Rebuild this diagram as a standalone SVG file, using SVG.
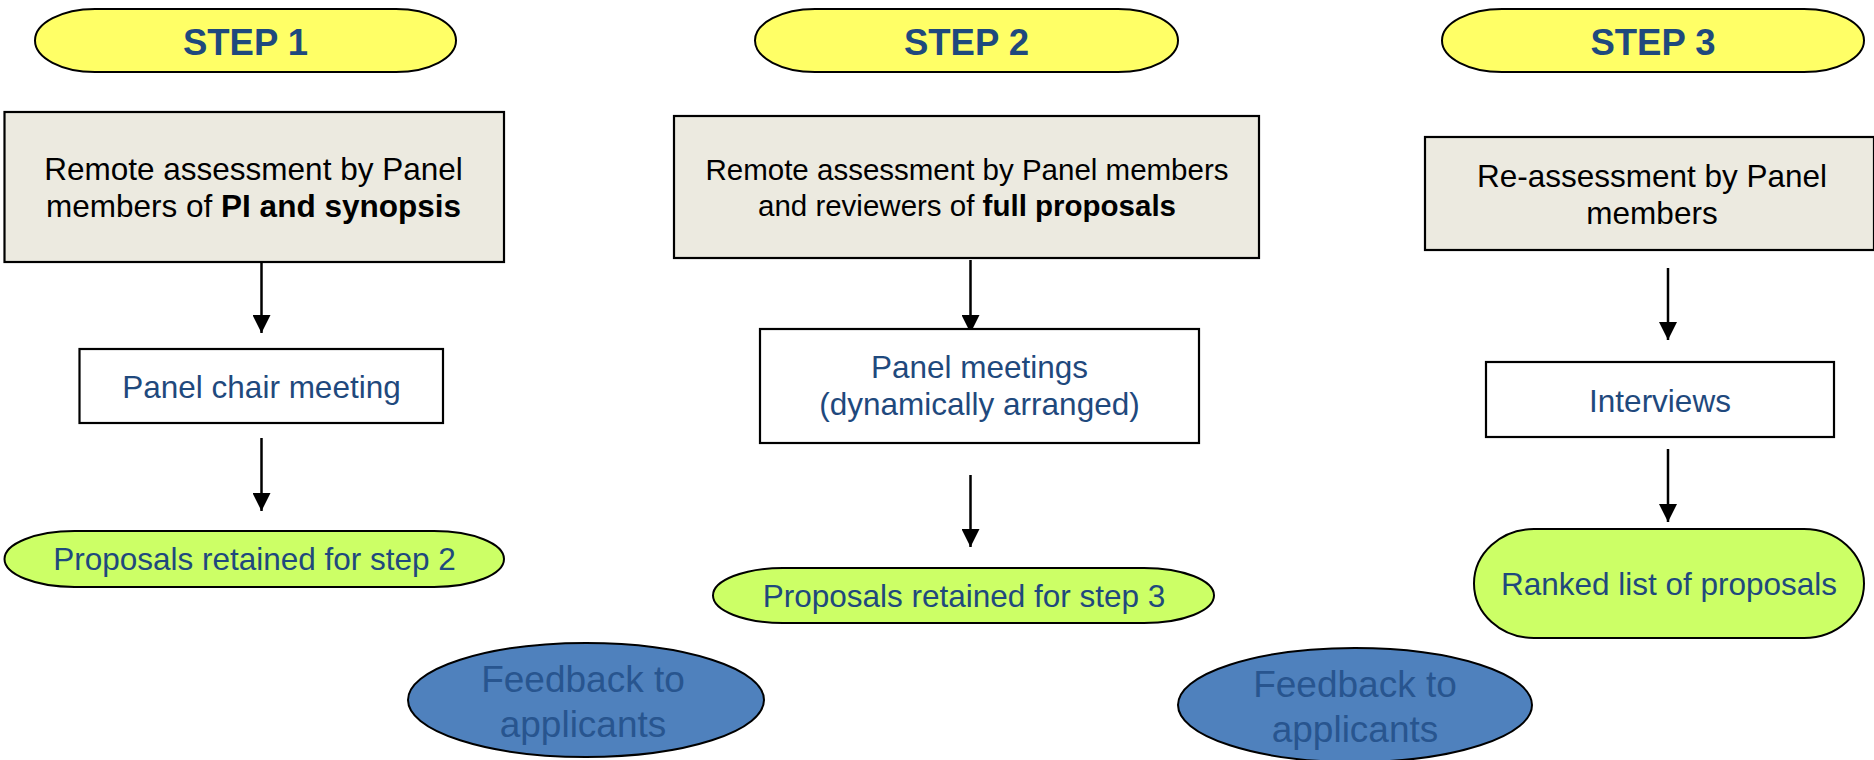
<svg xmlns="http://www.w3.org/2000/svg" width="1874" height="760" viewBox="0 0 1874 760">
<style>
.step{fill:#FFFF66;stroke:#000;stroke-width:2}
.steptxt{font-family:"Liberation Sans",Arial,sans-serif;font-weight:bold;font-size:36.5px;fill:#1F497D;text-anchor:middle}
.gbox{fill:#ECEAE0;stroke:#000;stroke-width:2.2}
.wbox{fill:#FFFFFF;stroke:#000;stroke-width:2.2}
.green{fill:#CCFF66;stroke:#000;stroke-width:2}
.fb{fill:#4F81BD;stroke:#000;stroke-width:2}
.blk{font-family:"Liberation Sans",Arial,sans-serif;font-size:31.5px;fill:#000;text-anchor:middle}
.blue{font-family:"Liberation Sans",Arial,sans-serif;font-size:31.5px;fill:#1F497D;text-anchor:middle}
.fbt{font-family:"Liberation Sans",Arial,sans-serif;font-size:37px;fill:#28558F;text-anchor:middle}
.b{font-weight:bold}
.conn{stroke:#000;stroke-width:2.5;fill:none;marker-end:url(#ah)}
</style>
<defs>
<marker id="ah" markerUnits="userSpaceOnUse" markerWidth="18" markerHeight="18" viewBox="0 0 16 16" refX="16" refY="8" orient="auto">
<path d="M0,0 L16,8 L0,16 Z" fill="#000"/>
</marker>
</defs>
<rect width="1874" height="760" fill="#FFFFFF"/>

<g id="connectors">
<line class="conn" x1="261.5" y1="262" x2="261.5" y2="333"/>
<line class="conn" x1="261.5" y1="438" x2="261.5" y2="511"/>
<line class="conn" x1="970.5" y1="260" x2="970.5" y2="333"/>
<line class="conn" x1="970.5" y1="475" x2="970.5" y2="547"/>
<line class="conn" x1="1668" y1="268" x2="1668" y2="340"/>
<line class="conn" x1="1668" y1="449" x2="1668" y2="522"/>
</g>

<g id="step1">
<rect class="step" x="35" y="9" width="421" height="63" rx="60" ry="31.5"/>
<text class="steptxt" x="245.5" y="55">STEP 1</text>
</g>
<g id="step2">
<rect class="step" x="755" y="9" width="423" height="63" rx="60" ry="31.5"/>
<text class="steptxt" x="966.5" y="55">STEP 2</text>
</g>
<g id="step3">
<rect class="step" x="1442" y="9" width="422" height="63" rx="60" ry="31.5"/>
<text class="steptxt" x="1653" y="55">STEP 3</text>
</g>

<g id="remote1">
<rect class="gbox" x="4.5" y="112" width="499.5" height="150"/>
<text class="blk" x="253.5" y="180">Remote assessment by Panel</text>
<text class="blk" x="253.5" y="217">members of <tspan class="b">PI and synopsis</tspan></text>
</g>
<g id="remote2">
<rect class="gbox" x="674" y="116" width="585" height="142"/>
<text class="blk" x="967" y="180" style="font-size:29.5px">Remote assessment by Panel members</text>
<text class="blk" x="967" y="216" style="font-size:29.5px">and reviewers of <tspan class="b">full proposals</tspan></text>
</g>
<g id="reassess">
<rect class="gbox" x="1425" y="137" width="449" height="113"/>
<text class="blk" x="1652" y="187">Re-assessment by Panel</text>
<text class="blk" x="1652" y="224">members</text>
</g>

<g id="chair">
<rect class="wbox" x="79.5" y="349" width="363.5" height="74"/>
<text class="blue" x="261.5" y="398">Panel chair meeting</text>
</g>
<g id="meetings">
<rect class="wbox" x="760" y="329" width="439" height="114"/>
<text class="blue" x="979.5" y="378">Panel meetings</text>
<text class="blue" x="979.5" y="415">(dynamically arranged)</text>
</g>
<g id="interviews">
<rect class="wbox" x="1486" y="362" width="348" height="75"/>
<text class="blue" x="1660" y="412">Interviews</text>
</g>

<g id="retained2">
<rect class="green" x="4.5" y="531" width="499.5" height="56" rx="70" ry="28"/>
<text class="blue" x="254.5" y="570">Proposals retained for step 2</text>
</g>
<g id="retained3">
<rect class="green" x="713" y="568" width="501" height="55" rx="70" ry="27.5"/>
<text class="blue" x="964" y="607">Proposals retained for step 3</text>
</g>
<g id="ranked">
<rect class="green" x="1474" y="529" width="390" height="109" rx="60" ry="54.5"/>
<text class="blue" x="1669" y="595">Ranked list of proposals</text>
</g>

<g id="feedback1">
<ellipse class="fb" cx="586" cy="700" rx="178" ry="57"/>
<text class="fbt" x="583" y="692">Feedback to</text>
<text class="fbt" x="583" y="737">applicants</text>
</g>
<g id="feedback2">
<ellipse class="fb" cx="1355" cy="705" rx="177" ry="57"/>
<text class="fbt" x="1355" y="697">Feedback to</text>
<text class="fbt" x="1355" y="742">applicants</text>
</g>
</svg>
